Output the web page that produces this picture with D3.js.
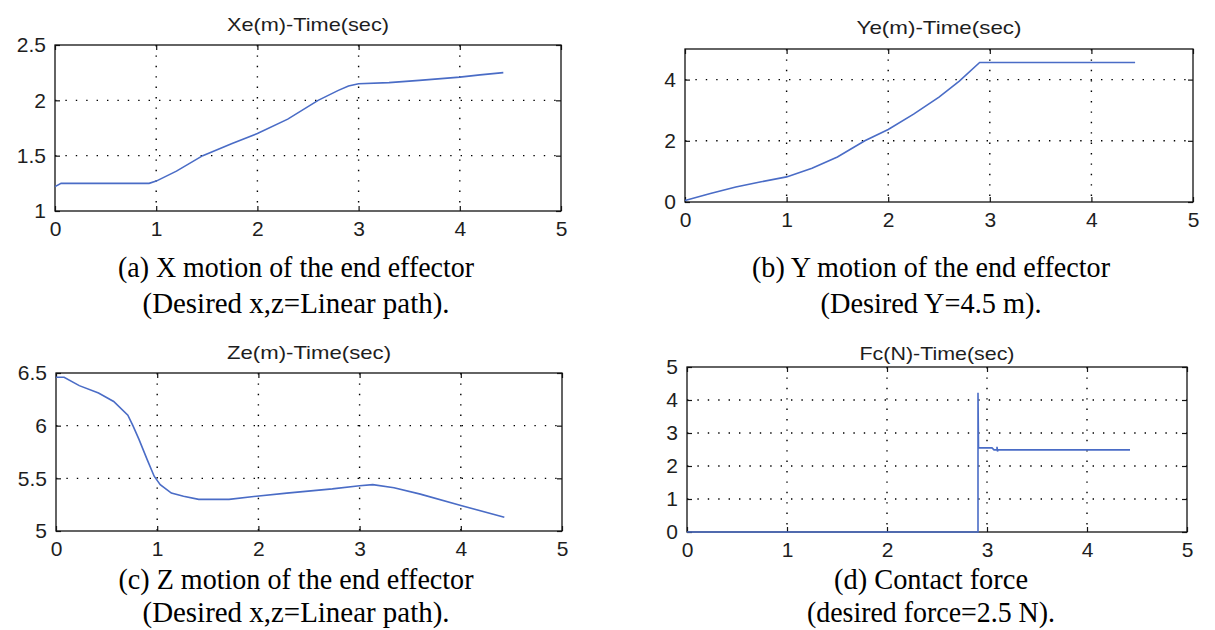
<!DOCTYPE html>
<html>
<head>
<meta charset="utf-8">
<script src="https://cdnjs.cloudflare.com/ajax/libs/d3/7.8.5/d3.min.js"></script>
<style>
  html, body { margin: 0; padding: 0; background: #fff; }
  svg { display: block; }
  .tick text { font-family: "Liberation Sans", Arial, sans-serif; fill: #1e1e1e; }
  .title { font-family: "Liberation Sans", Arial, sans-serif; fill: #1e1e1e; }
  .caption { font-family: "Liberation Serif", "Times New Roman", serif; fill: #000; }
</style>
</head>
<body>
<div id="chart"></div>
<script>
// ---- data: [time (s), value] ----
var xTicks = [0, 1, 2, 3, 4, 5];

var xeTicks = [1, 1.5, 2, 2.5];
var xePoints = [
    [0, 1.22], [0.06, 1.25], [0.93, 1.25], [1.0, 1.27], [1.2, 1.36], [1.46, 1.50],
    [1.75, 1.61], [2.0, 1.70], [2.3, 1.83], [2.6, 2.00], [2.8, 2.09], [2.9, 2.13],
    [3.0, 2.15], [3.3, 2.16], [3.6, 2.18], [4.0, 2.21], [4.2, 2.23], [4.43, 2.25]
];

var yeTicks = [0, 2, 4];
var yePoints = [
    [0, 0.05], [0.25, 0.28], [0.5, 0.49], [0.75, 0.66], [1.0, 0.82], [1.25, 1.1],
    [1.5, 1.47], [1.77, 2.0], [2.0, 2.37], [2.25, 2.87], [2.5, 3.43], [2.7, 3.95],
    [2.9, 4.56], [4.43, 4.56]
];

var zeTicks = [5, 5.5, 6, 6.5];
var zePoints = [
    [0, 6.46], [0.08, 6.46], [0.23, 6.38], [0.42, 6.31], [0.57, 6.23], [0.71, 6.10],
    [0.76, 6.0], [0.82, 5.87], [0.90, 5.68], [0.97, 5.52], [1.03, 5.44], [1.14, 5.36],
    [1.26, 5.33], [1.41, 5.30], [1.71, 5.30], [1.98, 5.33], [2.28, 5.36], [2.73, 5.40],
    [3.0, 5.43], [3.13, 5.44], [3.34, 5.41], [3.6, 5.35], [4.01, 5.24], [4.43, 5.13]
];

var fcTicks = [0, 1, 2, 3, 4, 5];
var fcPoints = [
    [0, 0], [2.91, 0], [2.91, 4.22], [2.915, 2.55], [3.05, 2.55], [3.07, 2.49],
    [3.1, 2.49], [3.1, 2.58], [3.105, 2.44], [3.11, 2.49], [4.43, 2.49]
];

var titles = ['Xe(m)-Time(sec)', 'Ye(m)-Time(sec)', 'Ze(m)-Time(sec)', 'Fc(N)-Time(sec)'];
var captions = [
    ['(a) X motion of the end effector', '(Desired x,z=Linear path).'],
    ['(b) Y motion of the end effector', '(Desired Y=4.5 m).'],
    ['(c) Z motion of the end effector', '(Desired x,z=Linear path).'],
    ['(d) Contact force', '(desired force=2.5 N).']
];

// ---- layout ----
var W = 1215, H = 630;
var lineColor = '#4a6cc6';

var panels = [
    { box: [55, 45, 561, 211], yDomain: [1, 2.5], yTicks: xeTicks, data: xePoints, titleY: 24, titleW: 162,
      capX: 296, capY: [267, 303], capW: [356, 307] },
    { box: [685, 49, 1193, 202], yDomain: [0, 5], yTicks: yeTicks, data: yePoints, titleY: 27, titleW: 165,
      capX: 931, capY: [267, 303], capW: [358, 221] },
    { box: [56, 373, 562, 531], yDomain: [5, 6.5], yTicks: zeTicks, data: zePoints, titleY: 352, titleW: 164,
      capX: 296, capY: [579, 612], capW: [355, 307] },
    { box: [687, 367, 1187, 532], yDomain: [0, 5], yTicks: fcTicks, data: fcPoints, titleY: 353, titleW: 155,
      capX: 931, capY: [579, 612], capW: [194, 248] }
];

var svg = d3.select('#chart').append('svg')
    .attr('width', W)
    .attr('height', H);

panels.forEach(function (p, i) {
    drawPanel(p, titles[i], captions[i]);
});

function drawPanel(p, title, caption) {
    var x0 = p.box[0], y0 = p.box[1], x1 = p.box[2], y1 = p.box[3];
    var x = d3.scaleLinear().domain([0, 5]).range([x0, x1]);
    var y = d3.scaleLinear().domain(p.yDomain).range([y1, y0]);
    var fmt = function (d) { return String(d); };
    var g = svg.append('g');

    // dotted grid at inner ticks
    var innerX = xTicks.filter(function (d) { return d > 0 && d < 5; });
    var innerY = p.yTicks.filter(function (d) { return d > p.yDomain[0] && d < p.yDomain[1]; });
    g.selectAll('.gx').data(innerX).enter().append('line')
        .attr('x1', x).attr('x2', x)
        .attr('y1', y0).attr('y2', y1)
        .attr('stroke', '#000').attr('stroke-width', 1.4)
        .attr('stroke-dasharray', '1.4,9');
    g.selectAll('.gy').data(innerY).enter().append('line')
        .attr('y1', y).attr('y2', y)
        .attr('x1', x0).attr('x2', x1)
        .attr('stroke', '#000').attr('stroke-width', 1.4)
        .attr('stroke-dasharray', '1.4,9');

    // box
    g.append('rect')
        .attr('x', x0).attr('y', y0)
        .attr('width', x1 - x0).attr('height', y1 - y0)
        .attr('fill', 'none').attr('stroke', '#111').attr('stroke-width', 1.3);

    // axes, ticks pointing inward on all four sides
    g.append('g').attr('transform', 'translate(0,' + y1 + ')')
        .call(d3.axisBottom(x).tickValues(xTicks).tickFormat(fmt)
            .tickSizeInner(-5).tickSizeOuter(0).tickPadding(10));
    g.append('g').attr('transform', 'translate(' + x0 + ',0)')
        .call(d3.axisLeft(y).tickValues(p.yTicks).tickFormat(fmt)
            .tickSizeInner(-5).tickSizeOuter(0).tickPadding(9));
    g.append('g').attr('transform', 'translate(0,' + y0 + ')')
        .call(d3.axisTop(x).tickValues(xTicks).tickFormat('').tickSizeInner(-5).tickSizeOuter(0));
    g.append('g').attr('transform', 'translate(' + x1 + ',0)')
        .call(d3.axisRight(y).tickValues(p.yTicks).tickFormat('').tickSizeInner(-5).tickSizeOuter(0));

    g.selectAll('.domain').remove();
    g.selectAll('.tick line').attr('stroke', '#111').attr('stroke-width', 1.2);
    g.selectAll('.tick text').attr('font-size', 21).attr('fill', '#1e1e1e');

    // data line drawn over the axes
    var line = d3.line()
        .x(function (d) { return x(d[0]); })
        .y(function (d) { return y(d[1]); });
    g.append('path')
        .datum(p.data)
        .attr('d', line)
        .attr('fill', 'none')
        .attr('stroke', lineColor)
        .attr('stroke-width', 1.6);

    // title
    g.append('text')
        .attr('class', 'title')
        .attr('x', (x0 + x1) / 2)
        .attr('y', p.titleY)
        .attr('dy', '0.35em')
        .attr('text-anchor', 'middle')
        .attr('font-size', 19)
        .attr('textLength', p.titleW)
        .attr('lengthAdjust', 'spacingAndGlyphs')
        .text(title);

    // caption below
    caption.forEach(function (c, k) {
        g.append('text')
            .attr('class', 'caption')
            .attr('x', p.capX)
            .attr('y', p.capY[k])
            .attr('dy', '0.33em')
            .attr('text-anchor', 'middle')
            .attr('font-size', 30)
            .attr('textLength', p.capW[k])
            .attr('lengthAdjust', 'spacingAndGlyphs')
            .text(c);
    });
}
</script>
</body>
</html>
